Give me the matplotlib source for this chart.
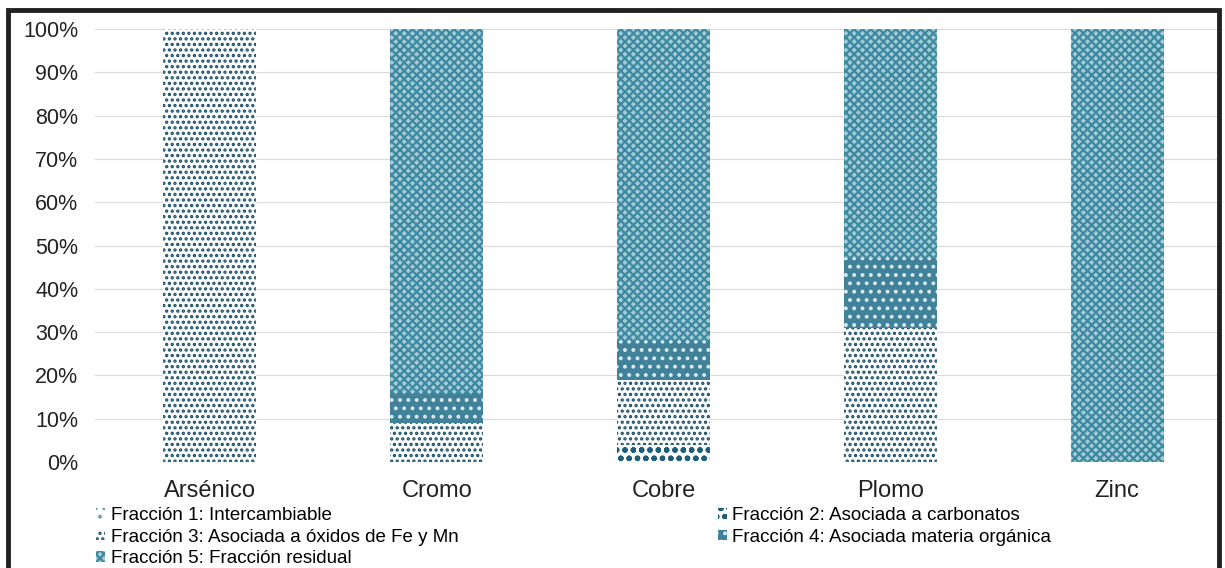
import numpy as np
import matplotlib.pyplot as plt
from matplotlib.patches import Patch, Rectangle

plt.rcParams['font.family'] = ['Liberation Sans', 'DejaVu Sans']
plt.rcParams['hatch.linewidth'] = 1.6

metales = ["Arsénico", "Cromo", "Cobre", "Plomo", "Zinc"]
f1 = [0, 0, 0, 0, 0]
f2 = [0, 0, 4, 0, 0]
f3 = [100, 9, 15, 31, 0]
f4 = [0, 7, 9, 16, 0]
f5 = [0, 84, 72, 53, 100]

nombres = ["Fracción 1: Intercambiable",
           "Fracción 2: Asociada a carbonatos",
           "Fracción 3: Asociada a óxidos de Fe y Mn",
           "Fracción 4: Asociada materia orgánica",
           "Fracción 5: Fracción residual"]

estilos = [
    dict(facecolor="white", edgecolor="#6f9fb0", hatch=".."),
    dict(facecolor="white", edgecolor="#1d5f78", hatch="oo"),
    dict(facecolor="white", edgecolor="#1b5068", hatch="..."),
    dict(facecolor="#3f8299", edgecolor="#dbe9ee", hatch=".."),
    dict(facecolor="#a3cad6", edgecolor="#3d8aa0", hatch="xxxx"),
]

fig = plt.figure(figsize=(12.25, 5.68), dpi=100)
ax = fig.add_axes([95 / 1225, 1 - 462 / 568, 1125 / 1225, 433 / 568])

x = np.arange(len(metales))
base = np.zeros(len(metales))
for vals, st in zip([f1, f2, f3, f4, f5], estilos):
    vals = np.array(vals, dtype=float)
    ax.bar(x, vals, width=0.41, bottom=base, linewidth=0, **st)
    base += vals

ax.set_ylim(0, 100)
ax.set_xlim(-0.507, 4.454)
ax.set_yticks(np.arange(0, 101, 10))
ax.set_yticklabels([f"{v}%" for v in range(0, 101, 10)], fontsize=15.5, color="#222222")
ax.set_xticks(x)
ax.set_xticklabels(metales, fontsize=17, color="#222222")
ax.tick_params(length=0)
ax.tick_params(axis="y", pad=12)
ax.tick_params(axis="x", pad=13)
ax.grid(axis="y", color="#d9d9d9", linewidth=0.8)
ax.set_axisbelow(True)
for s in ax.spines.values():
    s.set_visible(False)

handles = [Patch(linewidth=0, **st) for st in estilos]
orden = [0, 2, 4, 1, 3]
fig.legend([handles[i] for i in orden], [nombres[i] for i in orden],
           loc="upper left", bbox_to_anchor=(96 / 1225, 1 - 507 / 568),
           ncol=2, frameon=False, fontsize=13.5, handlelength=0.5,
           handleheight=0.5, handletextpad=0.3, labelspacing=0.25,
           columnspacing=13.8, borderaxespad=0, borderpad=0)

# marco negro de la figura
fig.add_artist(Rectangle((8 / 1225, -0.05), 1211 / 1225, 1.05 - 10 / 568,
                         transform=fig.transFigure, fill=False,
                         edgecolor="#222222", linewidth=3.5))

fig.savefig("out.png", dpi=100)
